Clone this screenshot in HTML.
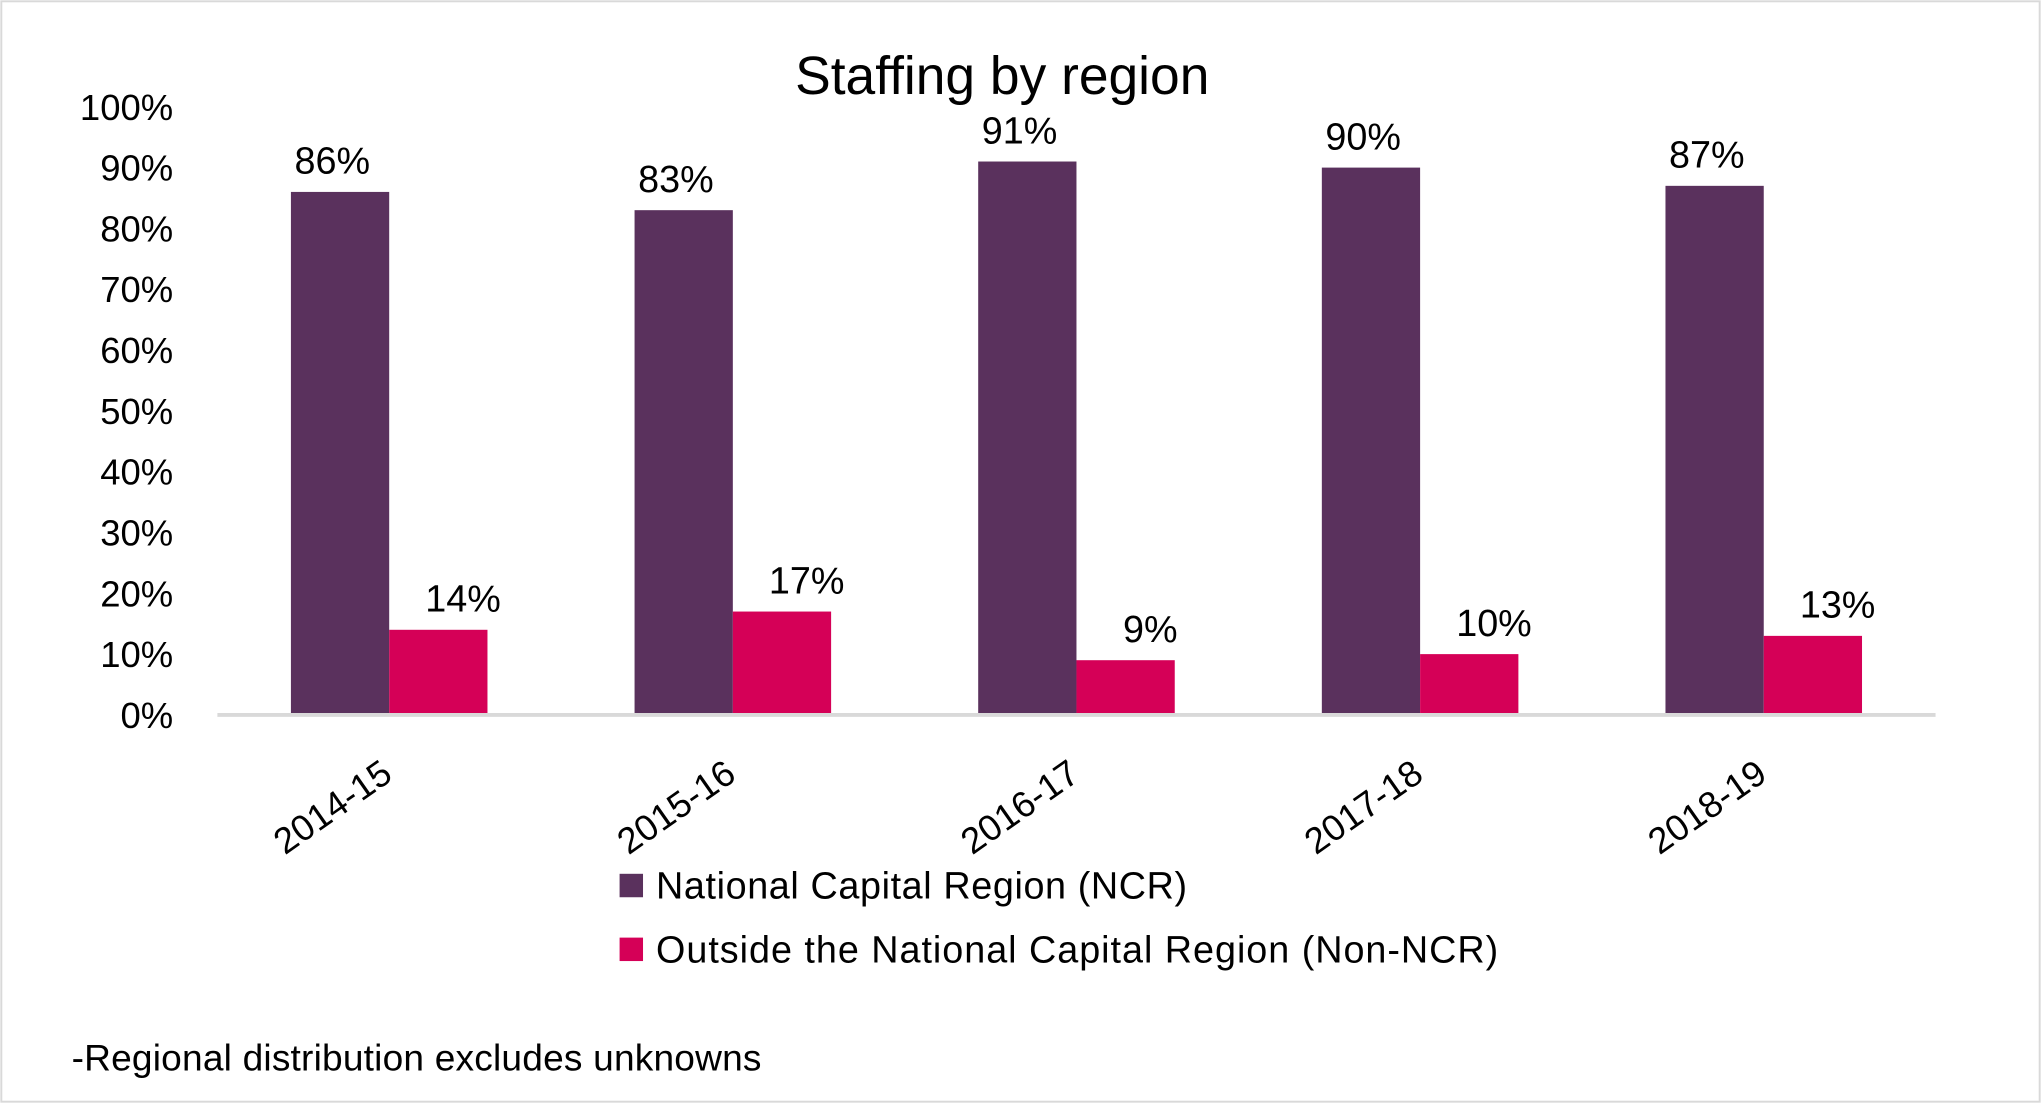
<!DOCTYPE html>
<html><head><meta charset="utf-8"><style>
html,body{margin:0;padding:0;background:#fff;}
svg{display:block;font-family:"Liberation Sans",sans-serif;}
</style></head><body>
<svg id="chart" width="2041" height="1103" viewBox="0 0 1568 847" preserveAspectRatio="none" xmlns="http://www.w3.org/2000/svg">
<rect x="1" y="1" width="1566" height="845" fill="#fff" stroke="#d9d9d9" stroke-width="1.5"/>
<text x="770" y="72" font-size="41" text-anchor="middle" fill="#000">Staffing by region</text>
<g id="yaxis"></g>
<g id="bars"></g>
<line x1="167" y1="549" x2="1487" y2="549" stroke="#d9d9d9" stroke-width="3"/>
<g id="xaxis"></g>
<g>
<g>
<rect x="476" y="671" width="18" height="18" fill="#5a315d"/>
<text x="504" y="690" font-size="29" fill="#000" textLength="408">National Capital Region (NCR)</text></g>
<g>
<rect x="476" y="720" width="18" height="18" fill="#d50057"/>
<text x="504" y="739" font-size="29" fill="#000" textLength="647">Outside the National Capital Region (Non-NCR)</text></g>
</g>
<text x="55" y="822" font-size="28.5" fill="#000" textLength="530">-Regional distribution excludes unknowns</text>
</svg>
<script>
const categories = ["2014-15","2015-16","2016-17","2017-18","2018-19"];
const ncrValues = [86,83,91,90,87];
const nonNcrValues = [14,17,9,10,13];
const yTicks = [0,10,20,30,40,50,60,70,80,90,100];
const NS = "http://www.w3.org/2000/svg";
const plotL = 167, plotR = 1487, y0 = 549, y100 = 82;
const yScale = v => y0 - (v/100)*(y0 - y100);
const band = (plotR - plotL)/categories.length;
const xCenter = i => plotL + band*(i+0.5);
const barW = 75.5;
function mk(tag, attrs, parent){const e=document.createElementNS(NS,tag);for(const k in attrs)e.setAttribute(k,attrs[k]);parent.appendChild(e);return e;}
const yaxis=document.getElementById('yaxis'), bars=document.getElementById('bars'), xaxis=document.getElementById('xaxis');
yTicks.forEach(t=>{
  const e=mk('text',{x:133,y:yScale(t)+10,'font-size':28,'text-anchor':'end',fill:'#000'},yaxis);
  
  
  e.textContent=t+'%';
});
const series=[{vals:ncrValues,color:'#5a315d',name:'ncr',off:-barW,lo:-6},{vals:nonNcrValues,color:'#d50057',name:'non-ncr',off:0,lo:19}];
categories.forEach((c,i)=>{
  series.forEach(s=>{
    const v=s.vals[i], x=xCenter(i)+s.off, y=yScale(v);
    const r=mk('rect',{x:x,y:y,width:barW,height:y0-y,fill:s.color},bars);
    
    
    const t=mk('text',{x:x+barW/2+s.lo,y:y-14,'font-size':29,'text-anchor':'middle',fill:'#000'},bars);
    
    
    t.textContent=v+'%';
  });
  const xl=mk('text',{x:0,y:0,'font-size':28,'text-anchor':'end',fill:'#000',transform:'translate('+(xCenter(i)+4)+',598) rotate(-35)'},xaxis);
  
  
  xl.textContent=c;
});
</script>
</body></html>
